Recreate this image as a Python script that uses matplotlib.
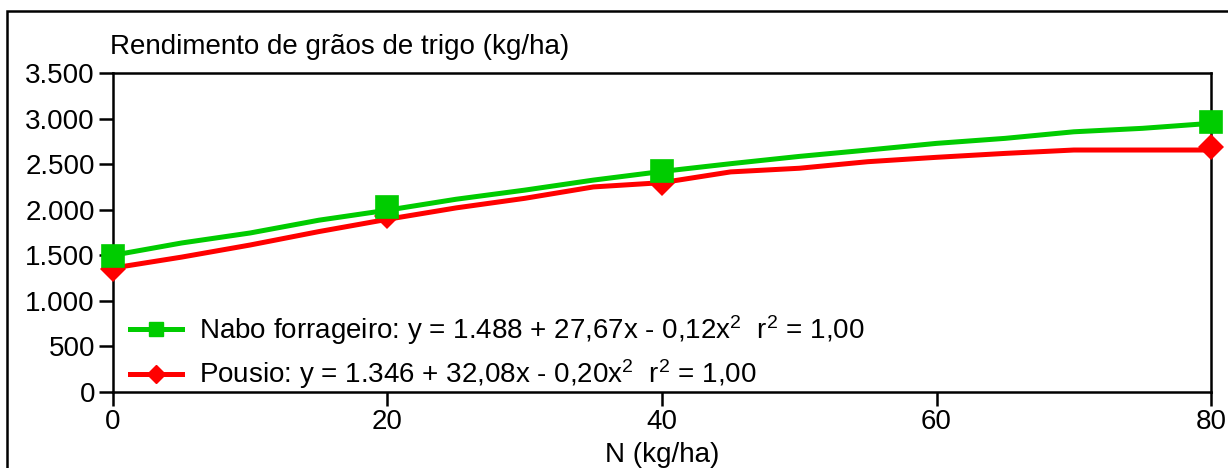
import matplotlib
matplotlib.use("Agg")
import matplotlib.pyplot as plt
from matplotlib.lines import Line2D
from matplotlib.patches import Rectangle
from matplotlib.ticker import FuncFormatter

plt.rcParams["font.family"] = ["Liberation Sans", "DejaVu Sans"]
plt.rcParams["mathtext.fontset"] = "custom"
plt.rcParams["mathtext.rm"] = "Liberation Sans"
plt.rcParams["mathtext.it"] = "Liberation Sans"

# observed means (markers)
n_doses = [0, 20, 40, 80]
nabo_obs = [1495, 2025, 2430, 2960]
pousio_obs = [1355, 1930, 2290, 2685]

# fitted curves, every 5 kg/ha
curve_x = [0, 5, 10, 15, 20, 25, 30, 35, 40, 45, 50, 55, 60, 65, 70, 75, 80]
nabo_fit = [1500, 1635, 1745, 1885, 1995, 2115, 2215, 2325, 2420,
            2505, 2585, 2655, 2728, 2783, 2855, 2893, 2948]
pousio_fit = [1360, 1480, 1613, 1760, 1895, 2020, 2125, 2250, 2297,
              2415, 2455, 2527, 2575, 2618, 2655, 2655, 2655]

labels = [r"Nabo forrageiro: y = 1.488 + 27,67x - 0,12x$^{2}$  r$^{2}$ = 1,00",
          r"Pousio: y = 1.346 + 32,08x - 0,20x$^{2}$  r$^{2}$ = 1,00"]

GREEN = "#00CC00"
RED = "#FF0000"
FS = 20

fig = plt.figure(figsize=(12.28, 4.68), dpi=100)
ax = fig.add_axes([0.0920, 0.1624, 0.8942, 0.6816])

ax.plot(curve_x, pousio_fit, color=RED, lw=3.6, solid_joinstyle="round", zorder=2)
ax.plot(curve_x, nabo_fit, color=GREEN, lw=3.6, solid_joinstyle="round", zorder=3)
ax.plot(n_doses, pousio_obs, ls="none", marker="D", ms=13.2, color=RED,
        markeredgewidth=0, clip_on=False, zorder=4)
ax.plot(n_doses, nabo_obs, ls="none", marker="s", ms=15.5, color=GREEN,
        markeredgewidth=1.2, markeredgecolor=GREEN, clip_on=False, zorder=5)

ax.set_xlim(0, 80)
ax.set_ylim(0, 3500)
ax.set_xticks([0, 20, 40, 60, 80])
ax.set_yticks(range(0, 3501, 500))
ax.yaxis.set_major_formatter(FuncFormatter(lambda v, p: f"{int(v):,}".replace(",", ".")))

for sp in ax.spines.values():
    sp.set_linewidth(1.8)
ax.tick_params(direction="out", length=10, width=1.8, labelsize=FS)
ax.tick_params(axis="x", pad=2)
ax.tick_params(axis="y", pad=3)

handles = [
    Line2D([], [], color=GREEN, lw=3.6, marker="s", ms=10),
    Line2D([], [], color=RED, lw=3.6, marker="D", ms=9),
]
ax.legend(handles, labels, loc="lower left", frameon=False, fontsize=FS,
          handlelength=1.9, handletextpad=0.6, labelspacing=0.4,
          borderaxespad=0.0, bbox_to_anchor=(0.005, -0.033))

fig.text(0.0896, 0.8996, "Rendimento de grãos de trigo (kg/ha)",
         fontsize=FS, ha="left", va="center")
fig.text(0.5392, 0.0278, "N (kg/ha)", fontsize=FS, ha="center", va="center")

# outer frame, cut at the right and bottom edges
fig.patches.append(Rectangle((7 / 1228, -0.2), 1.2, 1.2 - 11 / 468,
                             transform=fig.transFigure, fill=False,
                             lw=1.8, edgecolor="black"))

fig.savefig("out.png", dpi=100, facecolor="white")
